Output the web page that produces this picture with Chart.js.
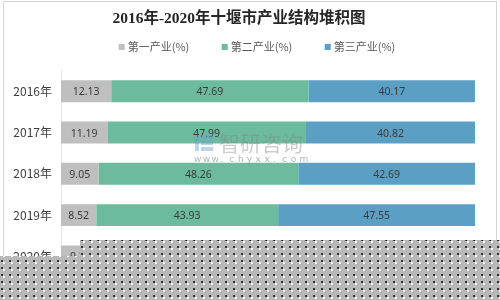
<!DOCTYPE html>
<html>
<head>
<meta charset="utf-8">
<script src="https://cdn.jsdelivr.net/npm/chart.js@4"></script>
<style>
  body { margin: 0; background: #fff; }
  #wrap { position: relative; width: 500px; height: 300px; overflow: hidden; }
  #frame { position: absolute; left: 3px; top: 1px; width: 492px; height: 320px; border: 1px solid #d4d4d4; }
  #chart { position: absolute; left: 0; top: 0; }
  #torn {
    position: absolute; left: 0; top: 0; width: 500px; height: 300px;
    background-color: #b8b8b8;
    background-image: radial-gradient(circle at 2px 2px, #333 0.7px, transparent 1.2px),
                      radial-gradient(circle at 4px 4px, #fff 0.7px, transparent 1.2px);
    background-size: 8px 7px;
    clip-path: polygon(0 256px, 80px 256px, 80px 240px, 500px 240px, 500px 300px, 0 300px);
  }
</style>
</head>
<body>
<div id="wrap">
  <div id="frame"></div>
  <canvas id="chart" width="500" height="300"></canvas>
  <div id="torn"></div>
</div>
<script>
// 2016-2020 十堰市产业结构 (%)
const years = ['2016年', '2017年', '2018年', '2019年', '2020年'];
const primary = [12.13, 11.19, 9.05, 8.52, 9.37];
const secondary = [47.69, 47.99, 48.26, 43.93, 41.93];
const tertiary = [40.17, 40.82, 42.69, 47.55, 48.70];

const barLabels = {
  id: 'barLabels',
  afterDatasetsDraw(chart) {
    const ctx = chart.ctx;
    ctx.save();
    ctx.font = '10.5px "Noto Sans", "DejaVu Sans", sans-serif';
    ctx.fillStyle = '#3a3a3a';
    ctx.textAlign = 'center';
    ctx.textBaseline = 'middle';
    chart.data.datasets.forEach((ds, i) => {
      chart.getDatasetMeta(i).data.forEach((bar, j) => {
        const x = (bar.x + bar.base) / 2;
        ctx.fillText(ds.data[j].toFixed(2), x, bar.y + 1);
      });
    });
    ctx.restore();
  }
};

// legend drawn by hand so the row can sit tight under the title
const topLegend = {
  id: 'topLegend',
  afterDraw(chart) {
    const ctx = chart.ctx;
    const box = 6, gap = 3, step = 103, y = 47;
    ctx.save();
    ctx.font = '11px "Noto Sans CJK SC", sans-serif';
    ctx.textBaseline = 'middle';
    const ds = chart.data.datasets;
    const lastW = box + gap + ctx.measureText(ds[ds.length - 1].label).width;
    let x = 257 - (step * (ds.length - 1) + lastW) / 2;
    ds.forEach(d => {
      ctx.fillStyle = d.backgroundColor;
      ctx.fillRect(x, y - box / 2, box, box);
      ctx.fillStyle = '#595959';
      ctx.fillText(d.label, x + box + gap, y);
      x += step;
    });
    ctx.restore();
  }
};

const watermark = {
  id: 'watermark',
  afterDraw(chart) {
    const ctx = chart.ctx;
    ctx.save();
    ctx.fillStyle = 'rgba(100,160,210,0.45)';
    ctx.fillRect(195, 135, 4, 16);
    ctx.fillRect(201, 135, 12, 4);
    ctx.fillRect(201, 141, 12, 4);
    ctx.fillRect(201, 147, 12, 4);
    ctx.font = '21px "Noto Sans CJK SC", sans-serif';
    ctx.fillStyle = 'rgba(130,130,130,0.4)';
    ctx.textBaseline = 'middle';
    ctx.fillText('智研咨询', 219, 143);
    ctx.font = '9px "DejaVu Sans", sans-serif';
    ctx.fillStyle = 'rgba(120,120,120,0.55)';
    const s = 'www.chyxx.com';
    for (let k = 0; k < s.length; k++) ctx.fillText(s[k], 194 + k * 8.8, 160);
    ctx.restore();
  }
};

new Chart(document.getElementById('chart'), {
  type: 'bar',
  data: {
    labels: years,
    datasets: [
      { label: '第一产业(%)', data: primary, backgroundColor: '#bfbfbf' },
      { label: '第二产业(%)', data: secondary, backgroundColor: '#6dbb9e' },
      { label: '第三产业(%)', data: tertiary, backgroundColor: '#5b9fc4' }
    ]
  },
  options: {
    indexAxis: 'y',
    responsive: false,
    animation: false,
    categoryPercentage: 1,
    barPercentage: 0.53,
    layout: { padding: { left: 3, right: 25, bottom: 23 } },
    plugins: {
      title: {
        display: true,
        text: '2016年-2020年十堰市产业结构堆积图',
        color: '#262626',
        font: { family: '"Liberation Serif", "Noto Sans CJK SC", serif', size: 15.5, weight: 'bold' },
        padding: { top: 10, bottom: 42 }
      },
      legend: { display: false },
      tooltip: { enabled: false }
    },
    scales: {
      x: {
        stacked: true,
        min: 0,
        max: 100,
        display: false
      },
      y: {
        stacked: true,
        grid: { display: false, drawTicks: false },
        border: { color: '#e6e6e6' },
        ticks: {
          color: '#404040',
          padding: 9,
          font: { family: '"Noto Sans CJK SC", sans-serif', size: 12 }
        },
        afterFit(scale) { scale.width = 58; }
      }
    }
  },
  plugins: [barLabels, topLegend, watermark]
});
</script>
</body>
</html>
